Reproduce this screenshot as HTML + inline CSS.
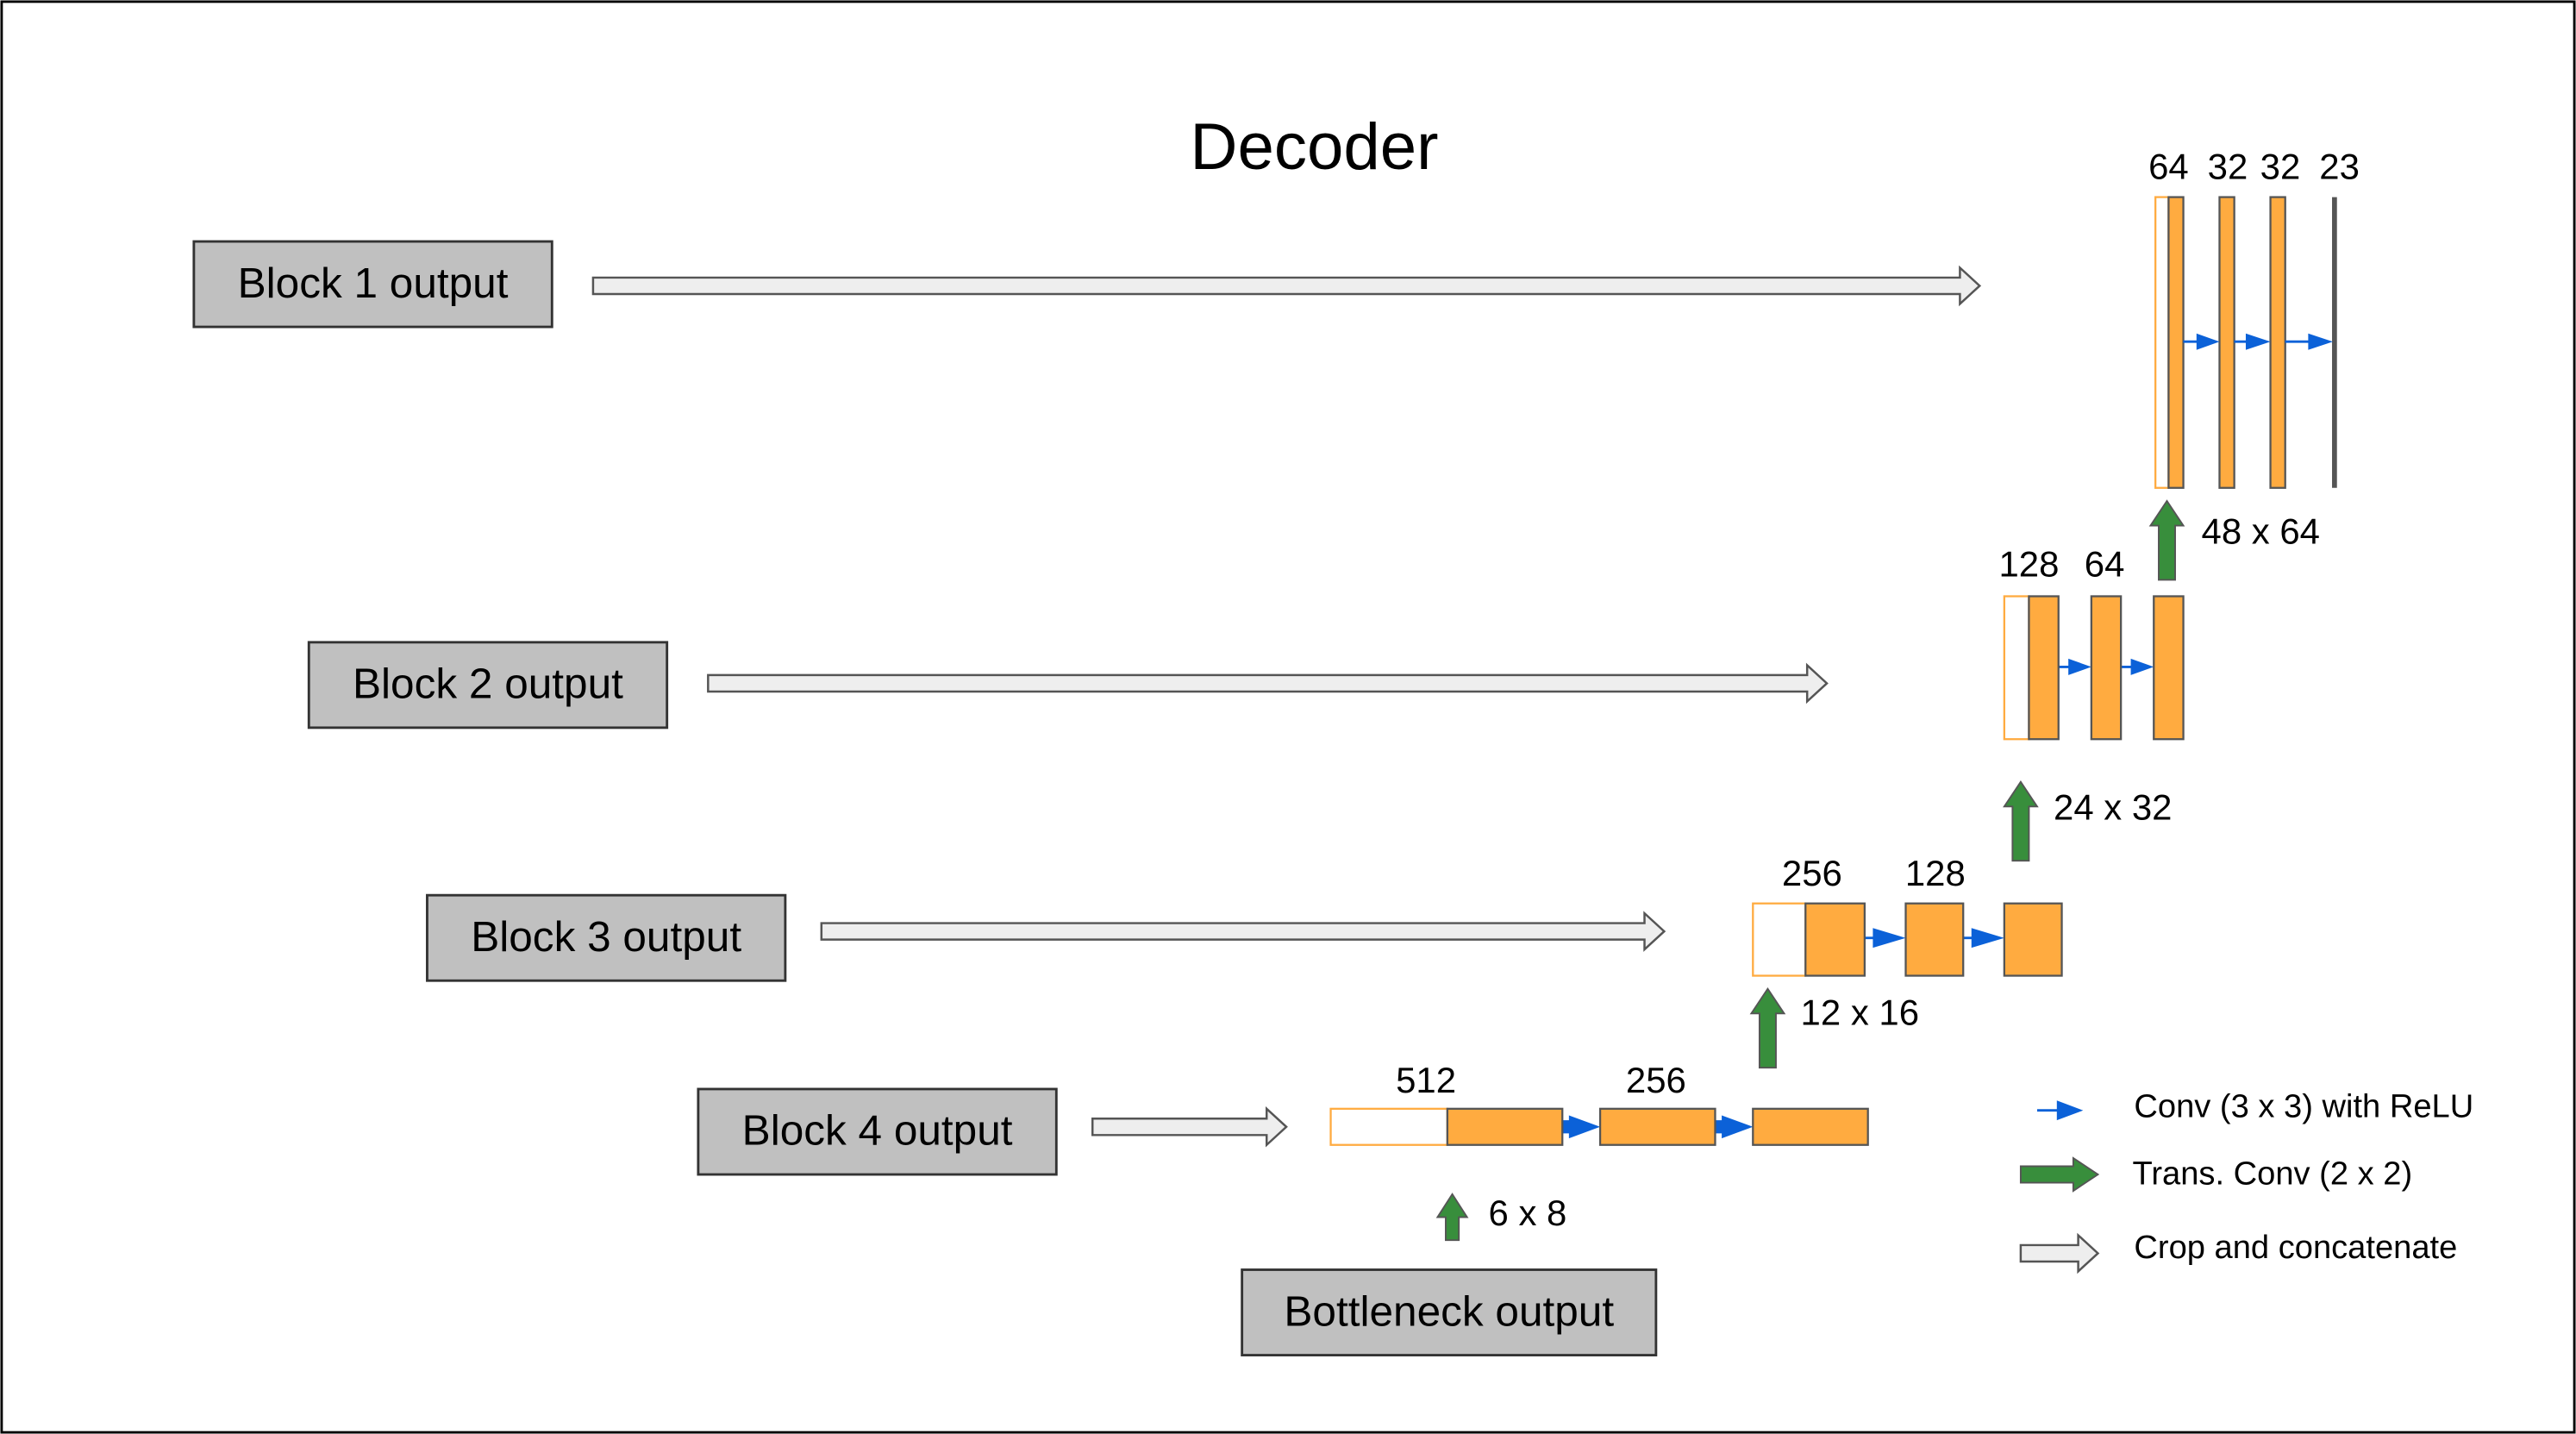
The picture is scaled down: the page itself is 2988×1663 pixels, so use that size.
<!DOCTYPE html>
<html><head><meta charset="utf-8"><style>
html,body{margin:0;padding:0;background:#fff;}
svg{display:block;}
text{font-family:"Liberation Sans",sans-serif;fill:#000;}
</style></head><body>
<svg width="2988" height="1663" viewBox="0 0 1568 873" preserveAspectRatio="none" xmlns="http://www.w3.org/2000/svg">
<defs>
<marker id="b" markerWidth="6" markerHeight="6" refX="5.5" refY="3" orient="auto" markerUnits="userSpaceOnUse"></marker>
</defs>
<rect x="1" y="1" width="1566" height="871" fill="#fff" stroke="#000" stroke-width="1.5"/>
<text x="800" y="103" font-size="40" text-anchor="middle">Decoder</text>

<g fill="#c0c0c0" stroke="#333" stroke-width="1.5">
<rect x="118" y="147" width="218" height="52"/>
<rect x="188" y="391" width="218" height="52"/>
<rect x="260" y="545" width="218" height="52"/>
<rect x="425" y="663" width="218" height="52"/>
<rect x="756" y="773" width="252" height="52"/>
</g>
<g font-size="26" text-anchor="middle">
<text x="227" y="181">Block 1 output</text>
<text x="297" y="425">Block 2 output</text>
<text x="369" y="579">Block 3 output</text>
<text x="534" y="697">Block 4 output</text>
<text x="882" y="807">Bottleneck output</text>
</g>

<!-- hollow arrows -->
<g fill="#eee" stroke="#555" stroke-width="1.3">
<polygon points="361,169 1193,169 1193,163 1205,174 1193,185 1193,179 361,179"/>
<polygon points="431,411 1100,411 1100,405 1112,416 1100,427 1100,421 431,421"/>
<polygon points="500,562 1001,562 1001,556 1013,567 1001,578 1001,572 500,572"/>
<polygon points="665,681 771,681 771,675 783,686 771,697 771,691 665,691"/>
<polygon points="1230,758 1265,758 1265,752 1277,763 1265,774 1265,768 1230,768"/>
</g>

<!-- level 1 -->
<rect x="1312" y="120" width="8" height="177" fill="#fff" stroke="#ffab40" stroke-width="1.2"/>
<g fill="#ffab40" stroke="#555" stroke-width="1.2">
<rect x="1320" y="120" width="9" height="177"/>
<rect x="1351" y="120" width="9" height="177"/>
<rect x="1382" y="120" width="9" height="177"/>
</g>
<line x1="1421" y1="120" x2="1421" y2="297" stroke="#555" stroke-width="3"/>
<g font-size="22" text-anchor="middle">
<text x="1320" y="109">64</text><text x="1356" y="109">32</text><text x="1388" y="109">32</text><text x="1424" y="109">23</text>
</g>

<!-- blue conv arrows -->
<g stroke="#0b61d8" stroke-width="1.5" fill="#0b61d8">
<line x1="1329" y1="208" x2="1340" y2="208"/><polygon points="1337,203 1351,208 1337,213" stroke="none"/>
<line x1="1360" y1="208" x2="1370" y2="208"/><polygon points="1367,203 1382,208 1367,213" stroke="none"/>
<line x1="1391" y1="208" x2="1408" y2="208"/><polygon points="1405,203 1420,208 1405,213" stroke="none"/>
<line x1="1253" y1="406" x2="1262" y2="406"/><polygon points="1259,401 1273,406 1259,411" stroke="none"/>
<line x1="1291" y1="406" x2="1300" y2="406"/><polygon points="1297,401 1311,406 1297,411" stroke="none"/>
<line x1="1135" y1="571" x2="1143" y2="571"/><polygon points="1140,565 1160,571 1140,577" stroke="none"/>
<line x1="1195" y1="571" x2="1203" y2="571"/><polygon points="1200,565 1220,571 1200,577" stroke="none"/>
<polygon points="951,682 955,682 955,679 974,686 955,693 955,690 951,690" stroke="none"/>
<polygon points="1044,682 1048,682 1048,679 1067,686 1048,693 1048,690 1044,690" stroke="none"/>
<line x1="1240" y1="676" x2="1255" y2="676"/><polygon points="1252,670 1268,676 1252,682" stroke="none"/>
</g>

<!-- level 2 -->
<rect x="1220" y="363" width="15" height="87" fill="#fff" stroke="#ffab40" stroke-width="1.2"/>
<g fill="#ffab40" stroke="#555" stroke-width="1.2">
<rect x="1235" y="363" width="18" height="87"/>
<rect x="1273" y="363" width="18" height="87"/>
<rect x="1311" y="363" width="18" height="87"/>
</g>
<g font-size="22" text-anchor="middle"><text x="1235" y="351">128</text><text x="1281" y="351">64</text></g>

<!-- level 3 -->
<rect x="1067" y="550" width="32" height="44" fill="#fff" stroke="#ffab40" stroke-width="1.2"/>
<g fill="#ffab40" stroke="#555" stroke-width="1.2">
<rect x="1099" y="550" width="36" height="44"/>
<rect x="1160" y="550" width="35" height="44"/>
<rect x="1220" y="550" width="35" height="44"/>
</g>
<g font-size="22" text-anchor="middle"><text x="1103" y="539">256</text><text x="1178" y="539">128</text></g>

<!-- level 4 -->
<rect x="810" y="675" width="71" height="22" fill="#fff" stroke="#ffab40" stroke-width="1.2"/>
<g fill="#ffab40" stroke="#555" stroke-width="1.2">
<rect x="881" y="675" width="70" height="22"/>
<rect x="974" y="675" width="70" height="22"/>
<rect x="1067" y="675" width="70" height="22"/>
</g>
<g font-size="22" text-anchor="middle"><text x="868" y="665">512</text><text x="1008" y="665">256</text></g>

<!-- green arrows -->
<g fill="#388e3c" stroke="#555" stroke-width="1">
<polygon points="1314,353 1314,320 1309,320 1319,305 1329,320 1324,320 1324,353"/>
<polygon points="1225,524 1225,491 1220,491 1230,476 1240,491 1235,491 1235,524"/>
<polygon points="1071,650 1071,617 1066,617 1076,602 1086,617 1081,617 1081,650"/>
<polygon points="880,755 880,741 875,741 884,727 893,741 888,741 888,755"/>
<polygon points="1230,710 1262,710 1262,705 1277,715 1262,725 1262,720 1230,720"/>
</g>
<g font-size="22">
<text x="1340" y="331">48 x 64</text>
<text x="1250" y="499">24 x 32</text>
<text x="1096" y="624">12 x 16</text>
<text x="906" y="746">6 x 8</text>
</g>

<!-- legend -->
<g font-size="20">
<text x="1299" y="680">Conv (3 x 3) with ReLU</text>
<text x="1298" y="721">Trans. Conv (2 x 2)</text>
<text x="1299" y="766">Crop and concatenate</text>
</g>
</svg>
</body></html>
